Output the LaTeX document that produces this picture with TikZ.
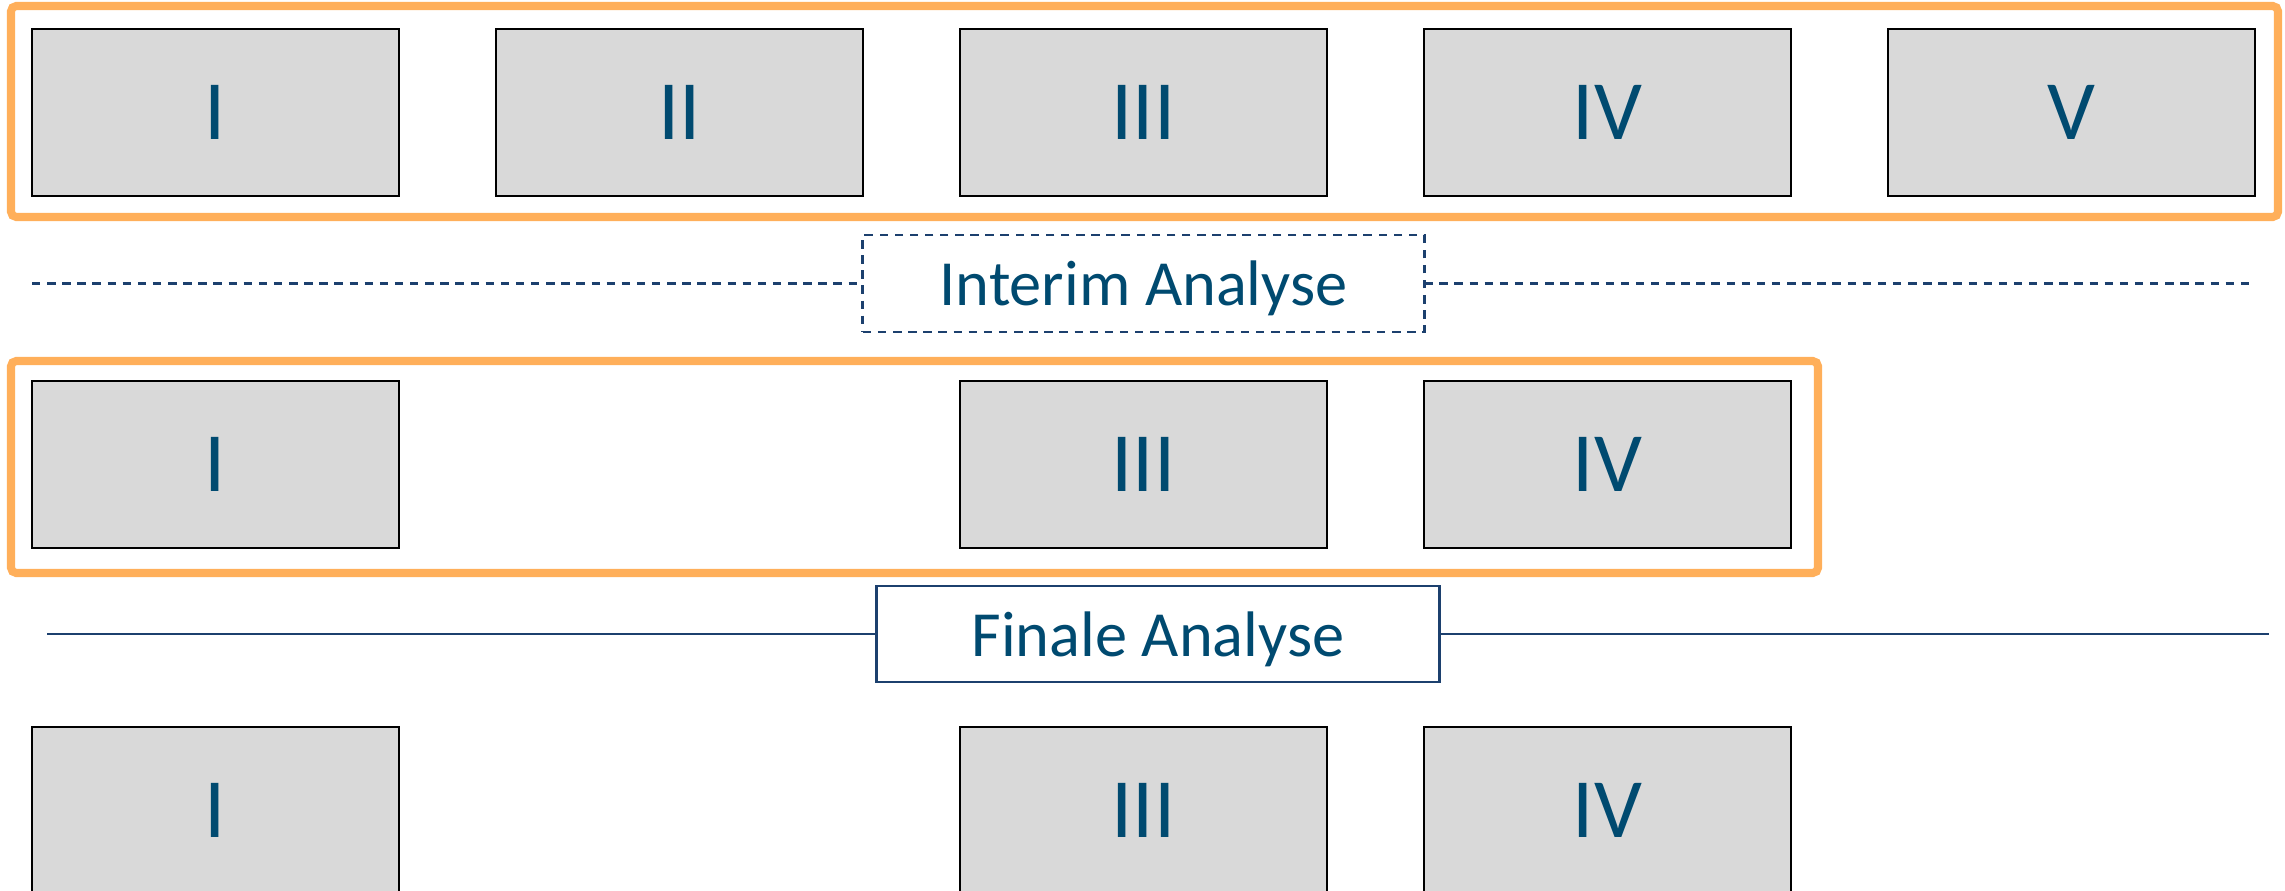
\documentclass[tikz,border=0pt]{standalone}
\usepackage{fontspec}
\setmainfont{Carlito}
\usepackage{tikz}
\usetikzlibrary{positioning}

\definecolor{frameorange}{RGB}{255,175,90}
\definecolor{boxgray}{HTML}{D9D9D9}
\definecolor{labelblue}{RGB}{0,74,112}
\definecolor{linenavy}{RGB}{28,64,110}

\tikzset{
  arm/.style={draw=black, line width=0.6pt, fill=boxgray, minimum width=3.67cm, minimum height=1.67cm,
    inner sep=0pt, outer sep=0pt, text=labelblue, font=\fontsize{24}{28}\selectfont},
  stage/.style={draw=frameorange, line width=2.3pt, rounded corners=1.5pt},
  analysis/.style={draw=linenavy, line width=0.8pt, fill=white, inner sep=0pt, outer sep=0pt,
    text=labelblue, text depth=0pt, font=\fontsize{18.3}{22}\selectfont},
  cutline/.style={draw=linenavy, line width=0.8pt}
}

\begin{document}
\begin{tikzpicture}[x=0.01cm,y=-0.01cm]
\useasboundingbox (0,0) rectangle (2285,891);

% Stage 1: all arms
\node[arm] (a1) at (215.5,112.5) {I};
\node[arm] (a2) at (679.5,112.5) {II};
\node[arm] (a3) at (1143.5,112.5) {III};
\node[arm] (a4) at (1607.5,112.5) {IV};
\node[arm] (a5) at (2071.5,112.5) {V};
\draw[stage] (11,6) rectangle (2278,217);

% Interim analysis
\node[analysis, dashed, dash pattern=on 2.4pt off 1.9pt, minimum width=5.61cm, minimum height=0.97cm] (interim) at (1143.5,283.5) {Interim Analyse};
\coordinate (il) at (32,283.5);
\coordinate (ir) at (2254,283.5);
\draw[cutline, dash pattern=on 2.4pt off 1.9pt] (il) -- (interim.west);
\draw[cutline, dash pattern=on 2.4pt off 1.9pt] (interim.east) -- (ir);

% Stage 2: selected arms
\node[arm] (b1) at (215.5,464.5) {I};
\node[arm] (b3) at (1143.5,464.5) {III};
\node[arm] (b4) at (1607.5,464.5) {IV};
\draw[stage] (11,361) rectangle (1818,573);

% Final analysis
\node[analysis, minimum width=5.62cm, minimum height=0.96cm] (final) at (1158,634) {Finale Analyse};
\coordinate (fl) at (47,634);
\coordinate (fr) at (2269,634);
\draw[cutline] (fl) -- (final.west);
\draw[cutline] (final.east) -- (fr);

% Stage 3
\node[arm] (c1) at (215.5,810.5) {I};
\node[arm] (c3) at (1143.5,810.5) {III};
\node[arm] (c4) at (1607.5,810.5) {IV};
\end{tikzpicture}
\end{document}
